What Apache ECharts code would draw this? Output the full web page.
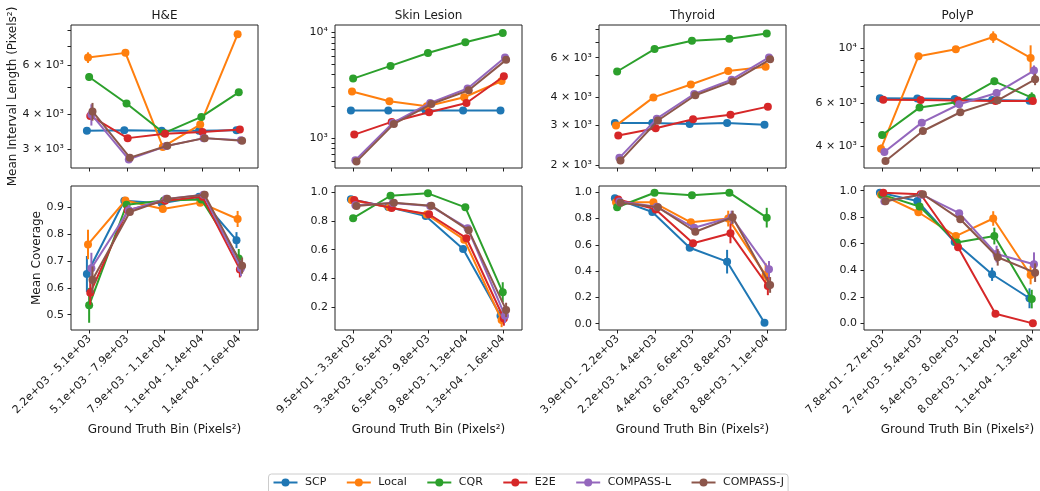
<!DOCTYPE html>
<html>
<head>
    <title></title>
    <meta http-equiv="content-type" content="text/html; charset=UTF-8">
    <script src="https://cdn.jsdelivr.net/npm/echarts@6/dist/echarts.min.js"></script>
    <style>
        html, body { margin: 0; padding: 0; background: #fff; }
        #container { width: 1040px; height: 491px; }
    </style>
</head>
<body>
    <div id="container"></div>

    <script type="text/javascript">
        var methods = ['SCP', 'Local', 'CQR', 'E2E', 'COMPASS-L', 'COMPASS-J'];
        var datasetNames = ['H&E', 'Skin Lesion', 'Thyroid', 'PolyP'];

        var heBins = ['2.2e+03 - 5.1e+03', '5.1e+03 - 7.9e+03', '7.9e+03 - 1.1e+04', '1.1e+04 - 1.4e+04', '1.4e+04 - 1.6e+04'];
        var skinBins = ['9.5e+01 - 3.3e+03', '3.3e+03 - 6.5e+03', '6.5e+03 - 9.8e+03', '9.8e+03 - 1.3e+04', '1.3e+04 - 1.6e+04'];
        var thyroidBins = ['3.9e+01 - 2.2e+03', '2.2e+03 - 4.4e+03', '4.4e+03 - 6.6e+03', '6.6e+03 - 8.8e+03', '8.8e+03 - 1.1e+04'];
        var polypBins = ['7.8e+01 - 2.7e+03', '2.7e+03 - 5.4e+03', '5.4e+03 - 8.0e+03', '8.0e+03 - 1.1e+04', '1.1e+04 - 1.3e+04'];

        // mean interval length, one row per method (same order as methods)
        var heLength = [
            [3500, 3510, 3500, 3500, 3510],
            [6400, 6650, 3060, 3680, 7750],
            [5450, 4380, 3430, 3920, 4800],
            [3950, 3290, 3410, 3460, 3530],
            [4000, 2760, 3080, 3290, 3230],
            [4100, 2800, 3090, 3290, 3220]
        ];
        var heLengthErr = [
            [0, 0, 0, 0, 0],
            [280, 0, 0, 0, 0],
            [170, 0, 0, 0, 0],
            [0, 0, 0, 0, 0],
            [350, 0, 0, 0, 0],
            [300, 0, 0, 0, 0]
        ];
        var skinLength = [
            [1820, 1820, 1820, 1820, 1820],
            [2760, 2230, 2000, 2435, 3475],
            [3660, 4830, 6410, 8110, 9900],
            [1077, 1420, 1755, 2150, 3855],
            [614, 1390, 2150, 2945, 5800],
            [597, 1360, 2100, 2840, 5510]
        ];
        var skinLengthErr = [
            [0, 0, 0, 0, 0],
            [0, 0, 0, 0, 0],
            [0, 0, 0, 0, 0],
            [0, 0, 0, 0, 0],
            [0, 0, 0, 0, 0],
            [0, 0, 0, 0, 0]
        ];
        var thyroidLength = [
            [3080, 3080, 3050, 3080, 3030],
            [3000, 4000, 4560, 5230, 5470],
            [5210, 6550, 7130, 7280, 7680],
            [2710, 2920, 3200, 3350, 3640],
            [2160, 3220, 4140, 4790, 6010],
            [2100, 3160, 4090, 4710, 5900]
        ];
        var thyroidLengthErr = [
            [0, 0, 0, 0, 0],
            [0, 0, 0, 0, 0],
            [0, 0, 0, 0, 0],
            [0, 0, 0, 0, 0],
            [0, 0, 0, 0, 0],
            [0, 0, 0, 0, 0]
        ];
        var polypLength = [
            [6280, 6260, 6240, 6180, 6140],
            [3920, 9300, 9930, 11150, 9160],
            [4455, 5755, 6050, 7360, 6320],
            [6200, 6180, 6150, 6120, 6120],
            [3800, 5000, 5940, 6600, 8140],
            [3490, 4624, 5510, 6160, 7500]
        ];
        var polypLengthErr = [
            [0, 0, 0, 0, 0],
            [150, 0, 0, 600, 1150],
            [0, 0, 0, 250, 320],
            [0, 0, 0, 0, 0],
            [0, 0, 0, 250, 400],
            [0, 0, 0, 0, 400]
        ];

        // mean coverage
        var heCoverage = [
            [0.652, 0.925, 0.916, 0.940, 0.778],
            [0.762, 0.926, 0.894, 0.918, 0.857],
            [0.535, 0.910, 0.926, 0.930, 0.710],
            [0.582, 0.890, 0.925, 0.940, 0.669],
            [0.673, 0.890, 0.932, 0.947, 0.673],
            [0.630, 0.883, 0.932, 0.947, 0.683]
        ];
        var heCoverageErr = [
            [0.067, 0, 0, 0, 0.03],
            [0.055, 0, 0, 0.01, 0.03],
            [0.065, 0, 0, 0, 0.035],
            [0.045, 0, 0, 0, 0.03],
            [0.058, 0.02, 0, 0, 0.03],
            [0.05, 0, 0, 0, 0.03]
        ];
        var skinCoverage = [
            [0.951, 0.897, 0.835, 0.605, 0.139],
            [0.945, 0.895, 0.845, 0.670, 0.110],
            [0.820, 0.976, 0.993, 0.895, 0.303],
            [0.946, 0.890, 0.847, 0.680, 0.120],
            [0.909, 0.925, 0.905, 0.750, 0.140],
            [0.905, 0.928, 0.907, 0.735, 0.180]
        ];
        var skinCoverageErr = [
            [0, 0, 0, 0.02, 0.04],
            [0, 0, 0, 0.02, 0.05],
            [0, 0, 0, 0, 0.07],
            [0, 0, 0, 0.02, 0.05],
            [0, 0, 0, 0.02, 0.05],
            [0, 0, 0, 0.02, 0.05]
        ];
        var thyroidCoverage = [
            [0.954, 0.850, 0.578, 0.472, 0.007],
            [0.924, 0.924, 0.772, 0.800, 0.370],
            [0.886, 0.997, 0.977, 0.997, 0.807],
            [0.945, 0.870, 0.612, 0.688, 0.287],
            [0.930, 0.890, 0.730, 0.810, 0.414],
            [0.921, 0.886, 0.700, 0.810, 0.295]
        ];
        var thyroidCoverageErr = [
            [0, 0, 0.02, 0.09, 0],
            [0, 0, 0.02, 0.06, 0.09],
            [0, 0, 0, 0, 0.075],
            [0, 0, 0.02, 0.076, 0.07],
            [0, 0, 0.02, 0.05, 0.063],
            [0, 0, 0.02, 0.05, 0.06]
        ];
        var polypCoverage = [
            [0.985, 0.922, 0.613, 0.370, 0.189],
            [0.970, 0.837, 0.658, 0.790, 0.364],
            [0.970, 0.880, 0.610, 0.658, 0.183],
            [0.985, 0.973, 0.573, 0.072, 0.000],
            [0.920, 0.970, 0.830, 0.522, 0.445],
            [0.920, 0.973, 0.784, 0.498, 0.382]
        ];
        var polypCoverageErr = [
            [0, 0, 0, 0.05, 0.075],
            [0, 0, 0.02, 0.055, 0.07],
            [0, 0, 0, 0.063, 0.07],
            [0, 0, 0, 0.02, 0],
            [0, 0, 0.02, 0.063, 0.09],
            [0, 0, 0.02, 0.063, 0.07]
        ];

        // tick positions / labelled ticks
        var heLengthTicks = [3000, 4000, 5000, 6000, 7000, 8000];
        var heLengthLabels = [3000, 4000, 6000];
        var skinLengthTicks = [600, 700, 800, 900, 1000, 2000, 3000, 4000, 5000, 6000, 7000, 8000, 9000, 10000];
        var skinLengthLabels = [1000, 10000];
        var thyroidLengthTicks = [2000, 3000, 4000, 5000, 6000, 7000, 8000];
        var thyroidLengthLabels = [2000, 3000, 4000, 6000];
        var polypLengthTicks = [4000, 5000, 6000, 7000, 8000, 9000, 10000];
        var polypLengthLabels = [4000, 6000, 10000];
        var heCoverageTicks = [0.5, 0.6, 0.7, 0.8, 0.9];
        var skinCoverageTicks = [0.2, 0.4, 0.6, 0.8, 1.0];
        var thyroidCoverageTicks = [0.0, 0.2, 0.4, 0.6, 0.8, 1.0];
        var polypCoverageTicks = [0.0, 0.2, 0.4, 0.6, 0.8, 1.0];

        (function () {
            var colors = ['#1f77b4', '#ff7f0e', '#2ca02c', '#d62728', '#9467bd', '#8c564b'];
            var fontFamily = 'DejaVu Sans';
            var textColor = '#1a1a1a';

            var panels = [
                { bins: heBins, len: heLength, lenErr: heLengthErr, cov: heCoverage, covErr: heCoverageErr,
                  lenRange: [2571, 8370], covRange: [0.443, 0.98],
                  lenTicks: heLengthTicks, lenLabels: heLengthLabels, covTicks: heCoverageTicks },
                { bins: skinBins, len: skinLength, lenErr: skinLengthErr, cov: skinCoverage, covErr: skinCoverageErr,
                  lenRange: [519, 11800], covRange: [0.04, 1.044],
                  lenTicks: skinLengthTicks, lenLabels: skinLengthLabels, covTicks: skinCoverageTicks },
                { bins: thyroidBins, len: thyroidLength, lenErr: thyroidLengthErr, cov: thyroidCoverage, covErr: thyroidCoverageErr,
                  lenRange: [1947, 8370], covRange: [-0.048, 1.048],
                  lenTicks: thyroidLengthTicks, lenLabels: thyroidLengthLabels, covTicks: thyroidCoverageTicks },
                { bins: polypBins, len: polypLength, lenErr: polypLengthErr, cov: polypCoverage, covErr: polypCoverageErr,
                  lenRange: [3270, 12470], covRange: [-0.05, 1.035],
                  lenTicks: polypLengthTicks, lenLabels: polypLengthLabels, covTicks: polypCoverageTicks }
            ];
            var colLeft = [71, 335, 599, 864];
            var panelWidth = 187;

            var sup = { '2': '\u00b2', '3': '\u00b3', '4': '\u2074' };
            function log10(v) { return Math.log(v) / Math.LN10; }
            function logLabel(v) {
                var x = Math.round(Math.pow(10, v));
                var exp = Math.floor(log10(x) + 1e-9);
                var mant = Math.round(x / Math.pow(10, exp));
                return mant === 1 ? '10' + sup[exp] : mant + ' \u00d7 10' + sup[exp];
            }
            function ident(v) { return v; }

            function errRender(params, api) {
                var p0 = api.coord([api.value(0), api.value(1)]);
                var p1 = api.coord([api.value(0), api.value(2)]);
                return {
                    type: 'line',
                    shape: { x1: p0[0], y1: p0[1], x2: p1[0], y2: p1[1] },
                    style: { stroke: api.visual('color'), lineWidth: 2 }
                };
            }

            var grid = [], xAxis = [], yAxis = [], lines = [], errs = [], graphic = [];
            var tickStyle = { length: 3.5, lineStyle: { color: '#222', width: 1 } };
            var labelStyle = { fontFamily: fontFamily, fontSize: 11, color: textColor };

            panels.forEach(function (pn, c) {
                [0, 1].forEach(function (row) {
                    var gi = grid.length;
                    var isLog = row === 0;
                    var tf = isLog ? log10 : ident;
                    grid.push({
                        left: colLeft[c], width: panelWidth,
                        top: row === 0 ? 25 : 186, height: row === 0 ? 143 : 144,
                        show: true, borderColor: '#222', borderWidth: 1,
                        backgroundColor: 'transparent',
                        containLabel: false, outerBoundsMode: 'none'
                    });
                    var ticks = [0, 1, 2, 3, 4];
                    xAxis.push({
                        type: 'value', gridIndex: gi, min: -0.5, max: 4.5, position: 'bottom',
                        axisLine: { show: false, onZero: false }, splitLine: { show: false },
                        axisTick: Object.assign({ customValues: ticks }, tickStyle),
                        axisLabel: Object.assign({
                            show: row === 1, customValues: ticks, rotate: 45, margin: 7,
                            formatter: function (v) { return pn.bins[Math.round(v)]; }
                        }, labelStyle),
                        name: row === 1 ? 'Ground Truth Bin (Pixels\u00b2)' : '',
                        nameLocation: 'middle', nameGap: 94,
                        nameTextStyle: { fontFamily: fontFamily, fontSize: 12, color: textColor }
                    });
                    var yName = '';
                    if (c === 0) yName = isLog ? 'Mean Interval Length (Pixels\u00b2)' : 'Mean Coverage';
                    var range = isLog ? pn.lenRange : pn.covRange;
                    yAxis.push({
                        type: 'value', gridIndex: gi, min: tf(range[0]), max: tf(range[1]), position: 'left',
                        axisLine: { show: false, onZero: false }, splitLine: { show: false },
                        axisTick: Object.assign({ customValues: (isLog ? pn.lenTicks : pn.covTicks).map(tf) }, tickStyle),
                        axisLabel: Object.assign({
                            customValues: (isLog ? pn.lenLabels : pn.covTicks).map(tf), margin: 7,
                            formatter: isLog ? logLabel : function (v) { return v.toFixed(1); }
                        }, labelStyle),
                        name: yName, nameLocation: 'middle', nameGap: isLog ? 50 : 27,
                        nameTextStyle: { fontFamily: fontFamily, fontSize: 12, color: textColor }
                    });

                    var vals = isLog ? pn.len : pn.cov;
                    var errVals = isLog ? pn.lenErr : pn.covErr;
                    methods.forEach(function (m, k) {
                        var dodge = -0.075 + 0.03 * k;
                        lines.push({
                            type: 'line', name: m, xAxisIndex: gi, yAxisIndex: gi,
                            data: vals[k].map(function (v, i) { return [i + dodge, tf(v)]; }),
                            symbol: 'circle', symbolSize: 8, showSymbol: true,
                            lineStyle: { width: 2, color: colors[k] },
                            itemStyle: { color: colors[k], borderWidth: 0 },
                            z: 2 + k, silent: true, animation: false,
                            emphasis: { disabled: true }
                        });
                        var ed = [];
                        errVals[k].forEach(function (e, i) {
                            if (e > 0) ed.push([i + dodge, tf(vals[k][i] - e), tf(vals[k][i] + e)]);
                        });
                        errs.push({
                            type: 'custom', name: m, xAxisIndex: gi, yAxisIndex: gi,
                            renderItem: errRender, data: ed, clip: true,
                            itemStyle: { color: colors[k] }, z: 2 + k, silent: true, animation: false
                        });
                    });
                });
                graphic.push({
                    type: 'text', x: colLeft[c] + panelWidth / 2, y: 16,
                    style: { text: datasetNames[c], fill: textColor, font: '12px "DejaVu Sans"', align: 'center', verticalAlign: 'middle' }
                });
            });

            var option = {
                backgroundColor: '#fff',
                animation: false,
                color: colors,
                grid: grid,
                xAxis: xAxis,
                yAxis: yAxis,
                graphic: graphic,
                legend: {
                    data: methods, left: 268.5, top: 474, orient: 'horizontal',
                    itemWidth: 24, itemHeight: 10, itemGap: 19.5,
                    padding: [3, 4, 6, 4],
                    borderColor: '#cccccc', borderWidth: 1, borderRadius: 3,
                    textStyle: { fontFamily: fontFamily, fontSize: 11, color: textColor, padding: [0, 0, 0, 2.5] },
                    selectedMode: false
                },
                series: lines.concat(errs)
            };

            var myChart = echarts.init(document.getElementById('container'));
            myChart.setOption(option);
        })();
    </script>
</body>
</html>
